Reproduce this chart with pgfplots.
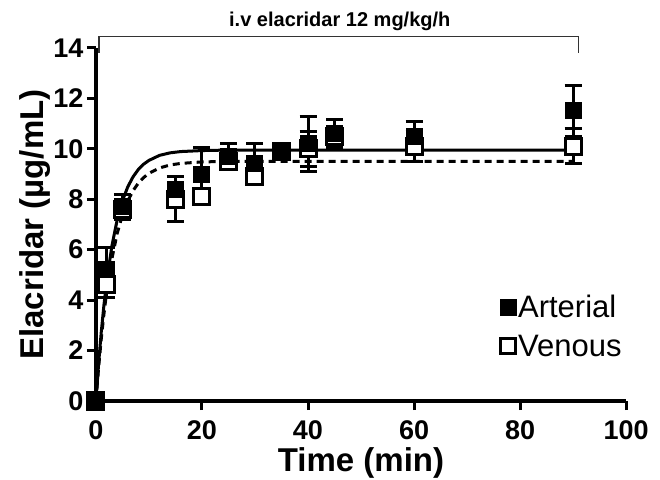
\documentclass[border=0pt]{standalone}
\usepackage{fontspec}
\setmainfont{Liberation Sans}
\usepackage{pgfplots}
\pgfplotsset{compat=1.18}

% time (min), mean, sem
\pgfplotstableread{
t   y     e
0   0     0
2   5.2   0.9
5   7.7   0.5
15  8.4   0.5
20  9.0   1.05
25  9.7   0.5
30  9.4   0.8
35  9.9   0.3
40  10.2  1.1
45  10.6  0.55
60  10.5  0.6
90  11.5  1.0
}\arterial
\pgfplotstableread{
t   y     e
0   0     0
2   4.6   0.5
5   7.6   0.4
15  8.0   0.9
20  8.1   0.3
25  9.5   0.3
30  8.9   0.3
35  9.9   0.3
40  10.0  0.7
45  10.5  0.3
60  10.1  0.6
90  10.1  0.7
}\venous

\begin{document}
\begin{tikzpicture}
\begin{axis}[
    width=530pt, height=353pt, scale only axis,
    xmin=0, xmax=100, ymin=0, ymax=14,
    axis lines*=left,
    axis line style={line width=3.5pt},
    xtick={0,20,...,100}, ytick={0,2,...,14},
    tick align=outside, major tick length=9pt,
    tick style={line width=3pt, black},
    /pgf/number format/assume math mode=true,
    ticklabel style={font=\bfseries\fontsize{27}{27}\selectfont},
    xticklabel shift=7pt,
    xlabel={Time (min)}, ylabel={Elacridar (µg/mL)},
    label style={font=\bfseries\fontsize{33}{33}\selectfont},
    xlabel style={yshift=-1pt},
    ylabel style={yshift=-4pt},
    clip=false,
    legend style={draw=none, fill=none, at={(axis cs:76.2,4.3)}, anchor=north west,
        font=\fontsize{31}{31}\selectfont, row sep=12pt, inner sep=0pt},
    legend cell align=left,
    legend image code/.code={\draw[#1] plot coordinates {(0.15cm,0cm)};},
]
\coordinate (bbsw) at (axis cs:-18.1,-3.1);
\coordinate (bbne) at (axis cs:106.4,15.9);

% fitted curves
\addplot[black, line width=3pt, forget plot] coordinates {
(0,0) (0.5,1.47) (1,2.73) (1.5,3.79) (2,4.71) (3,6.14) (4,7.18) (5,7.94) (6,8.49)
(7,8.89) (8,9.18) (9,9.39) (10,9.54) (12,9.74) (14,9.84) (16,9.89) (20,9.93) (25,9.95) (90,9.95)};
\addplot[black, line width=3pt, dash pattern=on 7pt off 5pt, forget plot] coordinates {
(0,0) (0.5,1.32) (1,2.46) (1.5,3.44) (2,4.29) (3,5.63) (4,6.64) (5,7.38) (6,7.93)
(7,8.34) (8,8.64) (9,8.86) (10,9.03) (12,9.24) (14,9.36) (16,9.42) (20,9.48) (25,9.50) (90,9.50)};

% venous (open squares)
\addplot[only marks, mark=square*, mark size=8pt, forget plot,
    mark options={fill=white, draw=black, line width=3pt},
    error bars/.cd, y dir=both, y explicit,
    error bar style={line width=3pt, black},
    error mark options={line width=3pt, mark size=8.5pt, rotate=90}]
    table[x=t, y=y, y error=e] {\venous};
% arterial (filled squares)
\addplot[only marks, mark=square*, mark size=8pt, forget plot,
    mark options={fill=black, draw=black, line width=1pt},
    error bars/.cd, y dir=both, y explicit,
    error bar style={line width=3pt, black},
    error mark options={line width=3pt, mark size=8.5pt, rotate=90}]
    table[x=t, y=y, y error=e] {\arterial};

\addlegendimage{only marks, mark=square*, mark size=8pt, mark options={fill=black, draw=black}}
\addlegendentry{Arterial}
\addlegendimage{only marks, mark=square*, mark size=7.5pt, mark options={fill=white, draw=black, line width=2.5pt}}
\addlegendentry{Venous}

% infusion bracket
\draw[line width=1.3pt, black!80] (axis cs:0.6,13.8) -- (axis cs:0.6,14.44) -- (axis cs:91,14.44) -- (axis cs:91,13.8);
\node[anchor=south, font=\bfseries\fontsize{20}{20}\selectfont, inner sep=0pt] at (axis cs:46,14.68) {i.v elacridar 12 mg/kg/h};
\end{axis}
\pgfresetboundingbox
\path (bbsw) rectangle (bbne);
\end{tikzpicture}
\end{document}
